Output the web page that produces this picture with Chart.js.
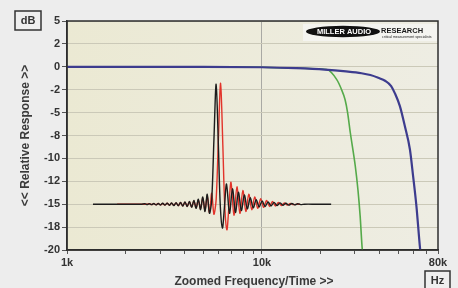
<!DOCTYPE html>
<html>
<head>
<meta charset="utf-8">
<script src="https://cdn.jsdelivr.net/npm/chart.js@4"></script>
<style>
html,body{margin:0;padding:0;background:#ededed;}
#wrap{width:458px;height:288px;position:relative;}
</style>
</head>
<body>
<div id="wrap"><canvas id="c" width="458" height="288"></canvas></div>
<script>
// ---- data ----
const xTickValues = [1000,2000,3000,4000,5000,6000,7000,8000,9000,10000,20000,30000,40000,50000,60000,70000,80000];
const xTickLabels = {1000:'1k', 10000:'10k', 80000:'80k'};
const yTickValues = [5,2.5,0,-2.5,-5,-7.5,-10,-12.5,-15,-17.5,-20];
const yTickLabels = ['5','2','0','-2','-5','-8','-10','-12','-15','-18','-20'];

const blueFreq = [1000,5000,10000,15000,21000,27000,32400,36000,39500,43000,46000,48100,51000,54100,57400,59600,62000,64500,65000];
const blueDB   = [0,0,-0.05,-0.15,-0.3,-0.5,-0.7,-0.9,-1.2,-1.55,-2.1,-2.9,-4.3,-6.5,-9.0,-11.9,-15.2,-19.5,-20.2];

const greenFreq = [1000,5000,10000,15000,21500,24200,25500,26700,27500,28400,30100,31100,31900,32700,32900];
const greenDB   = [0,0,-0.05,-0.15,-0.3,-1.4,-2.4,-3.6,-5.0,-7.2,-10.8,-13.5,-16.3,-19.9,-20.2];

// zoomed time traces (time axis, 0..100 across the plot)
const blackT  = [7.0,12.0,17.0,20.0,21.0,21.6,22.2,22.8,23.4,24.0,24.6,25.2,25.8,26.4,27.0,27.6,28.2,28.8,29.4,30.0,30.6,31.2,31.8,32.4,33.0,33.6,34.2,34.8,35.4,36.0,36.6,37.2,37.8,38.4,39.0,39.6,40.2,40.8,41.3,41.9,42.4,43.0,43.8,44.6,45.4,46.2,47.0,47.8,48.6,49.4,50.2,51.0,51.8,52.6,53.4,54.2,55.0,55.8,56.6,57.4,58.2,59.0,59.8,60.6,61.4,62.2,63.0,64.0,67.0,71.2];
const blackDB = [-15.0,-15.0,-15.0,-15.0,-14.95,-15.05,-14.95,-15.05,-14.93,-15.07,-14.92,-15.08,-14.9,-15.1,-14.88,-15.12,-14.86,-15.15,-14.83,-15.18,-14.8,-15.2,-14.75,-15.25,-14.7,-15.35,-14.6,-15.45,-14.45,-15.6,-14.2,-15.8,-13.9,-16.0,-14.6,-8.0,-1.9,-8.5,-15.0,-17.6,-15.5,-12.8,-16.0,-13.3,-15.9,-13.7,-15.7,-14.0,-15.5,-14.3,-15.4,-14.5,-15.3,-14.65,-15.25,-14.75,-15.2,-14.8,-15.15,-14.85,-15.12,-14.9,-15.1,-14.93,-15.07,-14.95,-15.05,-15.0,-15.0,-15.0];

const redT  = [13.5,18.0,21.5,22.2,22.8,23.4,24.0,24.6,25.2,25.8,26.4,27.0,27.6,28.2,28.8,29.4,30.0,30.6,31.2,31.8,32.4,33.0,33.6,34.2,34.8,35.4,36.0,36.6,37.2,37.8,38.4,39.0,39.6,40.2,40.8,41.4,42.0,42.5,43.1,43.6,44.2,45.0,45.8,46.6,47.4,48.2,49.0,49.8,50.6,51.4,52.2,53.0,53.8,54.6,55.4,56.2,57.0,57.8,58.6,59.4,60.2,61.0,62.0,62.8];
const redDB = [-15.0,-15.0,-15.0,-14.95,-15.05,-14.94,-15.06,-14.93,-15.07,-14.92,-15.09,-14.9,-15.1,-14.88,-15.13,-14.85,-15.16,-14.82,-15.2,-14.78,-15.24,-14.72,-15.3,-14.65,-15.4,-14.55,-15.5,-14.35,-15.7,-14.1,-15.9,-13.8,-16.1,-14.5,-8.0,-1.8,-8.5,-15.0,-17.8,-15.5,-12.6,-16.2,-13.1,-16.0,-13.5,-15.8,-13.9,-15.6,-14.2,-15.45,-14.4,-15.35,-14.6,-15.25,-14.7,-15.2,-14.8,-15.15,-14.86,-15.1,-14.92,-15.05,-15.0,-15.0];

const pts = (xs, ys) => xs.map((x, i) => ({x: x, y: ys[i]}));

const FONT = '"Liberation Sans", Arial, sans-serif';

const decor = {
  id: 'decor',
  beforeDraw(chart) {
    const {ctx, chartArea: a} = chart;
    ctx.save();
    ctx.fillStyle = '#ededed';
    ctx.fillRect(0, 0, chart.width, chart.height);
    const g = ctx.createLinearGradient(a.left, 0, a.right, 0);
    g.addColorStop(0, '#ebe9d3');
    g.addColorStop(1, '#eeede3');
    ctx.fillStyle = g;
    ctx.fillRect(a.left, a.top, a.right - a.left, a.bottom - a.top);
    ctx.restore();
  },
  afterDraw(chart) {
    const {ctx, chartArea: a} = chart;
    ctx.save();
    // frame
    ctx.strokeStyle = '#2e2e2e';
    ctx.lineWidth = 1.5;
    ctx.strokeRect(a.left, a.top, a.right - a.left, a.bottom - a.top);
    // dB box
    ctx.fillStyle = '#efefef';
    ctx.fillRect(15, 11, 26, 19);
    ctx.strokeStyle = '#333';
    ctx.lineWidth = 1.5;
    ctx.strokeRect(15, 11, 26, 19);
    ctx.fillStyle = '#333';
    ctx.font = 'bold 11px ' + FONT;
    ctx.textAlign = 'center';
    ctx.textBaseline = 'middle';
    ctx.fillText('dB', 28, 21);
    // Hz box
    ctx.fillStyle = '#efefef';
    ctx.fillRect(425, 271, 25, 18);
    ctx.strokeRect(425, 271, 25, 18);
    ctx.fillStyle = '#333';
    ctx.fillText('Hz', 437.5, 280.5);
    // axis titles
    ctx.fillStyle = '#3a3a3a';
    ctx.font = 'bold 12px ' + FONT;
    ctx.fillText('Zoomed Frequency/Time >>', 254, 281.5);
    ctx.save();
    ctx.translate(26, (a.top + a.bottom) / 2);
    ctx.rotate(-Math.PI / 2);
    ctx.fillText('<< Relative Response >>', 0, 0);
    ctx.restore();
    // logo
    ctx.fillStyle = '#f4f4f0';
    ctx.fillRect(303, 24, 134, 17);
    ctx.fillStyle = '#111';
    ctx.beginPath();
    ctx.ellipse(343, 31.5, 37, 5.8, 0, 0, Math.PI * 2);
    ctx.fill();
    ctx.fillStyle = '#ffffff';
    ctx.font = 'bold 7.5px ' + FONT;
    ctx.textAlign = 'center';
    ctx.fillText('MILLER AUDIO', 344, 31.5);
    ctx.fillStyle = '#1a1a1a';
    ctx.textAlign = 'left';
    ctx.fillText('RESEARCH', 381, 30.5);
    ctx.font = '3.5px ' + FONT;
    ctx.fillText('critical measurement specialists', 382, 37);
    ctx.restore();
  }
};

new Chart(document.getElementById('c'), {
  type: 'line',
  data: {
    datasets: [
      {label: 'black', data: pts(blackT, blackDB), xAxisID: 'xt', borderColor: '#1c1c1c', borderWidth: 1.4, pointRadius: 0, tension: 0.3, order: 0},
      {label: 'red', data: pts(redT, redDB), xAxisID: 'xt', borderColor: '#e2342b', borderWidth: 1.4, pointRadius: 0, tension: 0.3, order: 1},
      {label: 'blue', data: pts(blueFreq, blueDB), xAxisID: 'x', borderColor: '#3d3c8e', borderWidth: 2.2, pointRadius: 0, cubicInterpolationMode: 'monotone', order: 2},
      {label: 'green', data: pts(greenFreq, greenDB), xAxisID: 'x', borderColor: '#55aa4a', borderWidth: 1.6, pointRadius: 0, cubicInterpolationMode: 'monotone', order: 3}
    ]
  },
  options: {
    responsive: false,
    animation: false,
    devicePixelRatio: 1,
    layout: {padding: {left: 0, right: 20, top: 21, bottom: 0}},
    plugins: {legend: {display: false}, tooltip: {enabled: false}},
    scales: {
      x: {
        type: 'logarithmic', position: 'bottom', min: 1000, max: 80000,
        afterBuildTicks: s => { s.ticks = xTickValues.map(v => ({value: v})); },
        afterFit: s => { s.height = 38; },
        border: {display: true, color: '#2e2e2e', width: 1.5},
        grid: {
          color: c => (c.tick && c.tick.value === 10000) ? '#a9a9a4' : 'rgba(0,0,0,0)',
          tickColor: '#555', tickLength: 4, lineWidth: 1
        },
        ticks: {
          autoSkip: false, maxRotation: 0, padding: 2,
          color: '#333', font: {family: FONT, size: 11, weight: 'bold'},
          callback: v => xTickLabels[v] || ''
        }
      },
      xt: {type: 'linear', display: false, min: 0, max: 100},
      y: {
        type: 'linear', min: -20, max: 5,
        afterBuildTicks: s => { s.ticks = yTickValues.map(v => ({value: v})); },
        afterFit: s => { s.width = 67; },
        border: {display: true, color: '#2e2e2e', width: 1.5},
        grid: {color: '#cbc9b8', tickColor: '#555', tickLength: 5, lineWidth: 1},
        ticks: {
          padding: 2, color: '#333', font: {family: FONT, size: 11, weight: 'bold'},
          callback: (v, i) => yTickLabels[i]
        }
      }
    }
  },
  plugins: [decor]
});
</script>
</body>
</html>
